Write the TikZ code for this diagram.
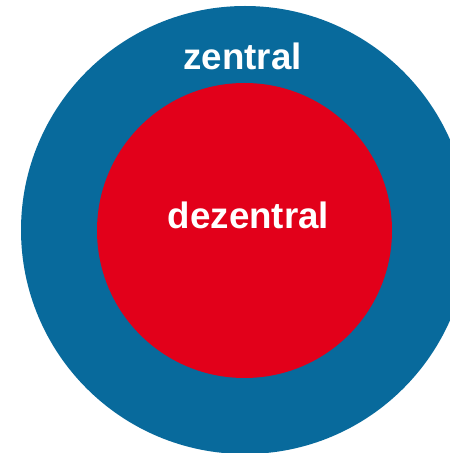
\documentclass[tikz,border=0pt]{standalone}
\usepackage{fontspec}
\setmainfont{Liberation Sans}
\definecolor{ringblue}{RGB}{8,106,156}
\definecolor{corered}{RGB}{226,0,26}
\tikzset{
  lbl/.style={text=white, font=\bfseries\fontsize{36.7}{40}\selectfont, anchor=base, inner sep=0pt}
}
\begin{document}
\begin{tikzpicture}[x=1pt,y=1pt]
  \useasboundingbox (0,0) rectangle (450,453);
  \clip (0,0) rectangle (450,453);
  \fill[white] (0,0) rectangle (450,453);
  \fill[ringblue] (245,223) circle[radius=224];
  \fill[corered] (244.5,222.5) circle[radius=147.5];
  \node[lbl] (outer) at (242.5,383) {zentral};
  \node[lbl] (inner) at (248.5,224) {dezentral};
\end{tikzpicture}
\end{document}
